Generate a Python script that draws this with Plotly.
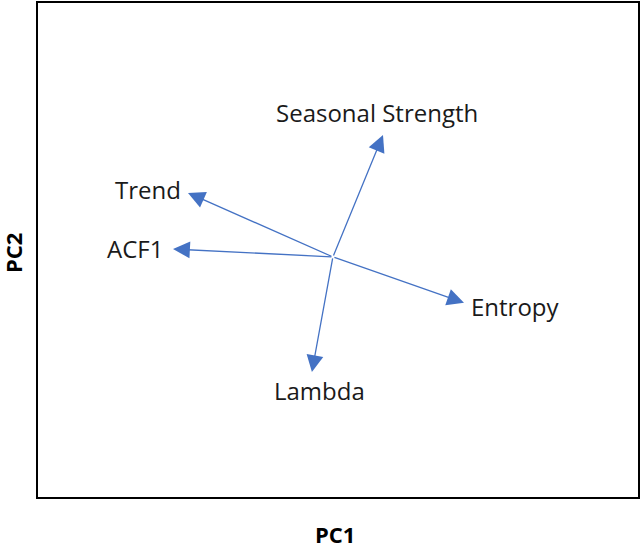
import plotly.graph_objects as go

# PCA loadings (PC1, PC2)
features = ["Seasonal Strength", "Trend", "ACF1", "Entropy", "Lambda"]
pc1 = [0.167, -0.483, -0.533, 0.437, -0.070]
pc2 = [0.494, 0.259, 0.032, -0.186, -0.466]

# label placement relative to arrow tip: (xanchor, yanchor, xshift, yshift)
label_pos = {
    "Seasonal Strength": ("center", "middle", -6, 22),
    "Trend": ("right", "middle", -5, 3),
    "ACF1": ("right", "middle", -8, 1),
    "Entropy": ("left", "middle", 5, -4),
    "Lambda": ("center", "middle", 8, -18),
}

BLUE = "#4472C4"
FONT = "Open Sans"

fig = go.Figure()
# invisible trace so axes exist
fig.add_trace(go.Scatter(x=pc1, y=pc2, mode="markers",
                         marker=dict(opacity=0), hoverinfo="skip",
                         showlegend=False))

annotations = []
for name, x, y in zip(features, pc1, pc2):
    annotations.append(dict(
        x=x, y=y, ax=0, ay=0, xref="x", yref="y", axref="x", ayref="y",
        showarrow=True, arrowhead=2, arrowsize=2.6, arrowwidth=1.3,
        arrowcolor=BLUE, text=""))
    xa, ya, xs, ys = label_pos[name]
    annotations.append(dict(
        x=x, y=y, xref="x", yref="y", text=name, showarrow=False,
        xanchor=xa, yanchor=ya, xshift=xs, yshift=ys,
        font=dict(family=FONT, size=24, color="#1a1a1a")))

# axis titles
annotations.append(dict(x=0.5, y=0, xref="paper", yref="paper",
                        text="<b>PC1</b>", showarrow=False,
                        xanchor="center", yanchor="middle", xshift=-3, yshift=-37,
                        font=dict(family=FONT, size=22, color="black")))
annotations.append(dict(x=0, y=0.5, xref="paper", yref="paper",
                        text="<b>PC2</b>", showarrow=False, textangle=-90,
                        xanchor="center", yanchor="middle", xshift=-25, yshift=-3,
                        font=dict(family=FONT, size=22, color="black")))

fig.update_layout(
    width=640, height=545, autosize=False,
    margin=dict(l=38, r=2, t=3, b=48),
    paper_bgcolor="white", plot_bgcolor="white",
    annotations=annotations,
    font=dict(family=FONT, color="black"),
)
fig.update_xaxes(range=[-0.983, 1.017], showgrid=False, zeroline=False,
                 showticklabels=False, ticks="", showline=True, linewidth=2,
                 linecolor="black", mirror=True, automargin=False)
fig.update_yaxes(range=[-0.972, 1.028], showgrid=False, zeroline=False,
                 showticklabels=False, ticks="", showline=True, linewidth=2,
                 linecolor="black", mirror=True, automargin=False)

post = (
    "document.body.style.margin='0';"
    "document.body.style.padding='0';"
    "document.body.style.overflow='hidden';"
    "var gd=document.getElementById('{plot_id}');"
    "Plotly.relayout(gd,{width:640,height:545});"
)

fig.write_html("out.html", post_script=post,
               config={"responsive": False, "displayModeBar": False})
